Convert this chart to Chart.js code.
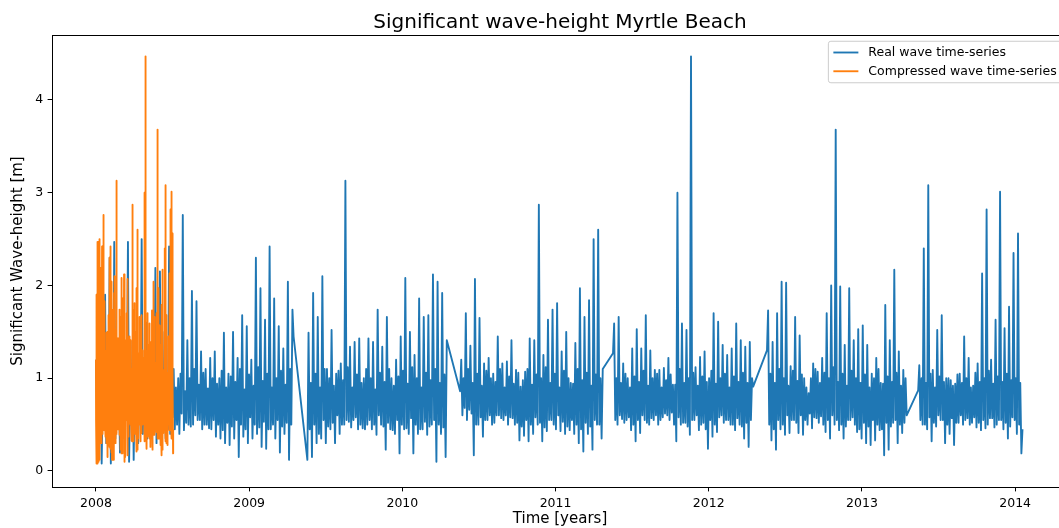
<!DOCTYPE html>
<html>
<head>
<meta charset="utf-8">
<title>Significant wave-height Myrtle Beach</title>
<script src="https://cdn.jsdelivr.net/npm/chart.js@4.4.1/dist/chart.umd.min.js"></script>
<style>
	html, body { margin: 0; padding: 0; background: #fff; overflow: hidden; }
	#wrap { width: 1075px; height: 528px; }
</style>
</head>
<body>
<div id="wrap"><canvas id="waves" width="1075" height="528"></canvas></div>
<script>
// record pieces (decimal years), the buoy has a gap every spring
const segStart = [2008.0, 2009.38, 2010.377, 2011.375, 2012.38, 2013.367];
const segEnd = [2009.29, 2010.29, 2011.308, 2012.29, 2013.292, 2014.048];

// wave height [m], peaks and troughs, alternating
const seg2008 = [
	1.2, 0.55, 1.6, 0.08, 1.9, 0.3, 2.3, 0.08, 2.47, 0.35,
	1.1, 0.2, 1.7, 0.4, 2.47, 0.1, 1.4, 0.12, 1.0, 0.3,
	2.5, 0.4, 1.6, 0.35, 1.3, 0.45, 2.19, 0.3, 2.15, 0.5,
	1.5, 0.35, 2.42, 0.4, 1.1, 0.45, 1.0, 0.4, 2.76, 0.44,
	1.41, 0.5, 1.94, 0.5, 1.83, 0.55, 1.29, 0.45, 1.1, 0.5,
	1.22, 0.45, 1.29, 0.37, 1.0, 0.35, 1.49, 0.3, 1.05, 0.28,
	1.5, 0.35, 1.22, 0.15, 1.68, 0.37, 1.56, 0.3, 1.2, 0.35,
	2.3, 0.4, 1.97, 0.26, 1.63, 0.24, 2.42, 0.45, 1.86, 0.35,
	1.56, 0.2, 1.32, 0.4, 2.04, 0.12, 1.74, 1.45,
];
const seg2009 = [
	0.12, 1.49, 0.15, 1.92, 0.3, 1.66, 0.35, 2.1, 0.3, 1.1,
	0.45, 1.52, 0.3, 1.05, 0.4, 1.16, 0.5, 3.13, 0.53, 1.34,
	0.55, 1.39, 0.45, 1.43, 0.46, 1.0, 0.5, 1.43, 0.45, 1.39,
	0.39, 1.74, 0.5, 1.34, 0.23, 1.66, 0.45, 1.0, 0.4, 1.2,
	0.19, 1.45, 0.45, 2.08, 0.4, 1.5, 0.19, 1.25, 0.4, 1.86,
	0.45, 1.66, 0.39, 1.68, 0.5, 2.12, 0.1, 2.04, 0.4, 1.92,
	0.15, 1.41,
];
const seg2010 = [
	0.86, 1.2, 0.68, 1.7, 0.66, 1.35, 0.17, 2.07, 0.5, 1.65,
	0.37, 1.16, 0.55, 1.22, 0.5, 1.05, 0.6, 1.45, 0.57, 1.16,
	0.6, 1.18, 0.58, 1.41, 0.5, 1.09, 0.33, 0.91, 0.38, 1.07,
	0.32, 1.43, 0.4, 1.41, 0.5, 2.87, 0.32, 1.25, 0.43, 1.63,
	0.55, 1.74, 0.45, 1.81, 0.43, 1.29, 0.4, 1.5, 0.44, 0.95,
	0.4, 1.38, 0.3, 1.97, 0.21, 1.66, 0.4, 1.84, 0.23, 2.5,
	0.5, 2.6, 0.35, 1.1,
];
const seg2011 = [
	1.27, 1.59, 0.5, 1.66, 0.56, 1.16, 0.55, 1.0, 0.44, 1.32,
	0.32, 1.53, 0.41, 1.32, 0.55, 1.68, 0.5, 1.3, 0.55, 1.09,
	0.5, 1.09, 0.58, 1.11, 0.6, 1.22, 0.63, 0.93, 0.32, 3.0,
	0.5, 1.59, 0.52, 1.52, 0.39, 4.47, 0.55, 1.12, 0.44, 1.23,
	0.52, 1.29, 0.24, 1.0, 0.37, 1.7, 0.42, 1.61, 0.6, 1.36,
	0.55, 1.25, 0.5, 1.32, 0.44, 1.59, 0.5, 1.41, 0.35, 1.34,
	0.26, 1.39, 0.91,
];
const seg2012 = [
	1.3, 1.73, 0.33, 1.39, 0.23, 1.7, 0.45, 2.04, 0.39, 2.03,
	0.41, 1.13, 0.55, 1.66, 0.41, 1.46, 0.39, 1.0, 0.5, 0.84,
	0.46, 1.16, 0.57, 1.07, 0.59, 1.22, 0.42, 1.7, 0.35, 2.0,
	0.5, 3.68, 0.44, 1.99, 0.35, 1.36, 0.55, 1.97, 0.58, 1.41,
	0.42, 1.53, 0.35, 1.57, 0.3, 1.36, 0.28, 1.05, 0.33, 1.22,
	0.44, 0.95, 0.17, 1.79, 0.23, 1.41, 0.52, 2.17, 0.3, 1.29,
	0.41, 1.09, 0.6,
];
const seg2013 = [
	0.87, 1.14, 0.5, 2.4, 0.45, 3.08, 0.32, 1.09, 0.48, 1.52,
	0.55, 1.68, 0.3, 1.0, 0.4, 0.98, 0.28, 0.94, 0.52, 1.05,
	0.5, 1.45, 0.57, 1.22, 0.52, 0.92, 0.47, 1.16, 0.44, 2.13,
	0.46, 2.82, 0.57, 1.2, 0.47, 1.63, 0.55, 3.01, 0.45, 1.54,
	0.35, 1.77, 0.58, 2.35, 0.4, 2.56, 0.19, 0.45,
];

// the dense body of the band between those peaks (same alternation)
const band2008 = [
	1.0, 0.5, 0.9, 0.45, 1.1, 0.55, 0.95, 0.4, 1.05, 0.5, 0.85, 0.45, 1.15, 0.6, 0.9, 0.5, 1.0, 0.42, 0.95, 0.55,
	1.1, 0.5, 0.88, 0.48, 1.02, 0.6, 0.92, 0.5, 1.08, 0.55, 0.97, 0.45, 1.12, 0.58, 0.9, 0.5, 1.05, 0.62, 0.86, 0.52,
	1.0, 0.48, 1.1, 0.6, 0.93, 0.55, 1.06, 0.5, 0.89, 0.46, 1.0, 0.55, 0.94, 0.5, 1.08, 0.44, 0.9, 0.52, 1.02, 0.48,
	0.96, 0.55, 1.1, 0.5, 0.88, 0.45, 1.04, 0.58, 0.92, 0.5, 1.12, 0.47, 0.97, 0.53, 1.05, 0.45, 0.9, 0.5, 1.0, 0.55,
	1.08, 0.48, 0.93, 0.52, 1.1, 0.5,
];
const band2009 = [
	0.45, 0.95, 0.5, 1.05, 0.4, 0.9, 0.55, 1.1, 0.48, 1.0, 0.52, 0.92, 0.6, 1.08, 0.5, 0.98, 0.55, 1.12, 0.47, 0.9,
	0.58, 1.04, 0.5, 0.95, 0.45, 1.1, 0.55, 1.0, 0.5, 0.88, 0.6, 1.06, 0.48, 0.96, 0.52, 1.1, 0.44, 0.92, 0.55, 1.02,
	0.5, 1.08, 0.46, 0.94, 0.57, 1.12, 0.5, 1.0, 0.45, 0.9, 0.53, 1.06, 0.48, 0.98, 0.55, 1.1, 0.5, 0.95, 0.47, 1.04,
];
const band2010 = [
	0.6, 1.0, 0.55, 1.1, 0.62, 0.95, 0.5, 1.05, 0.58, 0.92, 0.55, 1.08, 0.6, 1.0, 0.52, 0.96, 0.6, 1.1, 0.55, 0.9,
	0.5, 1.02, 0.57, 0.94, 0.52, 1.06, 0.48, 0.98, 0.55, 1.1, 0.5, 0.93, 0.58, 1.04, 0.52, 1.0, 0.47, 1.12, 0.55, 0.95,
	0.5, 1.05, 0.6, 0.9, 0.53, 1.08, 0.48, 1.0, 0.55, 0.94, 0.5, 1.1, 0.45, 0.98, 0.52, 1.06, 0.48, 0.92, 0.55, 1.04,
	0.5, 1.0,
];
const band2011 = [
	0.55, 1.0, 0.6, 0.95, 0.52, 1.05, 0.58, 0.9, 0.5, 1.02, 0.55, 0.96, 0.6, 1.08, 0.52, 0.92, 0.57, 1.0, 0.6, 1.05,
	0.55, 0.9, 0.62, 0.98, 0.55, 1.04, 0.5, 0.93, 0.58, 1.1, 0.52, 0.95, 0.48, 1.0, 0.55, 1.06, 0.6, 0.92, 0.5, 1.02,
	0.45, 0.96, 0.55, 1.08, 0.5, 0.94, 0.58, 1.0, 0.52, 1.05, 0.55, 0.9, 0.5, 1.02, 0.57, 0.96, 0.48, 1.06, 0.52, 0.95,
	0.55, 1.0,
];
const band2012 = [
	0.5, 1.05, 0.45, 0.95, 0.55, 1.1, 0.5, 1.0, 0.6, 0.92, 0.55, 1.08, 0.52, 0.97, 0.6, 1.04, 0.55, 0.9, 0.62, 1.0,
	0.58, 1.1, 0.52, 0.95, 0.5, 1.06, 0.55, 1.0, 0.6, 1.12, 0.55, 0.96, 0.5, 1.05, 0.48, 0.92, 0.55, 1.08, 0.5, 1.0,
	0.45, 0.95, 0.52, 1.04, 0.48, 0.9, 0.55, 1.0, 0.5, 1.1, 0.45, 0.94, 0.52, 1.02, 0.48, 0.96, 0.55, 1.06, 0.5, 0.92,
	0.52, 1.0,
];
const band2013 = [
	0.55, 1.0, 0.5, 0.95, 0.58, 1.05, 0.52, 0.9, 0.6, 1.02, 0.55, 0.96, 0.5, 1.0, 0.57, 0.92, 0.52, 1.04, 0.6, 0.95,
	0.55, 1.0, 0.5, 0.9, 0.58, 1.06, 0.52, 0.96, 0.55, 1.0, 0.5, 1.08, 0.57, 0.94, 0.5, 1.02, 0.55, 0.96, 0.52, 1.05,
	0.48, 0.98, 0.55, 1.0, 0.5, 0.95,
];

const segments = [seg2008, seg2009, seg2010, seg2011, seg2012, seg2013];
const bands = [band2008, band2009, band2010, band2011, band2012, band2013];

// the compressed series is the same record squeezed 12x along time
const compressFactor = 12;

const xTickYears = [2008, 2009, 2010, 2011, 2012, 2013, 2014];
const yTickValues = [0, 1, 2, 3, 4];
const seriesNames = ['Real wave time-series', 'Compressed wave time-series'];
const seriesColors = ['#1f77b4', '#ff7f0e'];

var realPoints = [];
segments.forEach((vals, k) => {
	const band = bands[k];
	const seq = [];
	vals.forEach((v, i) => {
		seq.push(v);
		if (i % 2 === 1 && i < vals.length - 1 && band[i] !== undefined) {
			seq.push(band[i - 1], band[i]);
		}
	});
	const step = (segEnd[k] - segStart[k]) / (seq.length - 1);
	seq.forEach((v, j) => {
		realPoints.push({ x: segStart[k] + j * step, y: v });
	});
});
var compressedPoints = realPoints.map((p) => ({
	x: 2008 + (p.x - 2008) / compressFactor,
	y: p.y,
}));

const FONT = 'DejaVu Sans';

const mplDecor = {
	id: 'mplDecor',
	afterDraw(chart) {
		const ctx = chart.ctx;
		const a = chart.chartArea;
		ctx.save();
		// axes frame
		ctx.strokeStyle = '#000';
		ctx.lineWidth = 1;
		ctx.strokeRect(Math.round(a.left) + 0.5, Math.round(a.top) + 0.5,
			Math.round(a.right - a.left), Math.round(a.bottom - a.top));

		ctx.fillStyle = '#000';
		ctx.textAlign = 'center';
		ctx.textBaseline = 'alphabetic';
		ctx.font = '20px "' + FONT + '"';
		ctx.fillText('Significant wave-height Myrtle Beach', (a.left + a.right) / 2, a.top - 7.5);

		ctx.font = '15px "' + FONT + '"';
		ctx.textBaseline = 'middle';
		ctx.fillText('Time [years]', (a.left + a.right) / 2, 519);
		ctx.save();
		ctx.translate(18, (a.top + a.bottom) / 2);
		ctx.rotate(-Math.PI / 2);
		ctx.fillText('Significant Wave-height [m]', 0, 0);
		ctx.restore();

		// legend, upper right
		ctx.font = '12.5px "' + FONT + '"';
		var textW = 0;
		seriesNames.forEach((n) => { textW = Math.max(textW, ctx.measureText(n).width); });
		const boxW = 5 + 25 + 10 + textW + 5;
		const boxH = 41.5;
		const right = a.right - 6.25;
		const left = right - boxW;
		const top = a.top + 6.25;
		ctx.beginPath();
		ctx.roundRect(left, top, boxW, boxH, 2.5);
		ctx.fillStyle = 'rgba(255,255,255,0.8)';
		ctx.fill();
		ctx.strokeStyle = '#cccccc';
		ctx.lineWidth = 1;
		ctx.stroke();
		chart.data.datasets.forEach((ds, i) => {
			const cy = top + 11.25 + i * 18.75;
			ctx.strokeStyle = ds.borderColor;
			ctx.lineWidth = 1.875;
			ctx.beginPath();
			ctx.moveTo(left + 5, cy);
			ctx.lineTo(left + 30, cy);
			ctx.stroke();
			ctx.fillStyle = '#000';
			ctx.textAlign = 'left';
			ctx.textBaseline = 'middle';
			ctx.fillText(ds.label, left + 40, cy);
		});
		ctx.restore();
	},
};

const tickFont = { family: FONT, size: 12.5 };

new Chart(document.getElementById('waves'), {
	type: 'line',
	data: {
		datasets: [
			{
				label: seriesNames[0],
				data: realPoints,
				borderColor: seriesColors[0],
				borderWidth: 1.875,
				order: 1,
			},
			{
				label: seriesNames[1],
				data: compressedPoints,
				borderColor: seriesColors[1],
				borderWidth: 1.875,
				order: 0,
			},
		],
	},
	options: {
		responsive: false,
		animation: false,
		events: [],
		parsing: false,
		normalized: true,
		layout: { padding: { left: 0, top: 35, right: 7, bottom: 0 } },
		elements: {
			point: { radius: 0 },
			line: { tension: 0, borderJoinStyle: 'round', fill: false },
		},
		plugins: {
			legend: { display: false },
			title: { display: false },
			tooltip: { enabled: false },
		},
		scales: {
			x: {
				type: 'linear',
				min: 2007.713,
				max: 2014.345,
				afterBuildTicks: (s) => { s.ticks = xTickYears.map((v) => ({ value: v })); },
				afterFit: (s) => { s.height = 41; },
				border: { display: false },
				grid: { drawOnChartArea: false, drawTicks: true, tickLength: 4.4, tickColor: '#000', tickWidth: 1 },
				ticks: { font: tickFont, color: '#000', padding: 4.4, maxRotation: 0, autoSkip: false, callback: (v) => String(v) },
			},
			y: {
				type: 'linear',
				min: -0.1725,
				max: 4.70,
				afterBuildTicks: (s) => { s.ticks = yTickValues.map((v) => ({ value: v })); },
				afterFit: (s) => { s.width = 52; },
				border: { display: false },
				grid: { drawOnChartArea: false, drawTicks: true, tickLength: 4.4, tickColor: '#000', tickWidth: 1 },
				ticks: { font: tickFont, color: '#000', padding: 4.4, autoSkip: false, callback: (v) => String(v) },
			},
		},
	},
	plugins: [mplDecor],
});
</script>
</body>
</html>
